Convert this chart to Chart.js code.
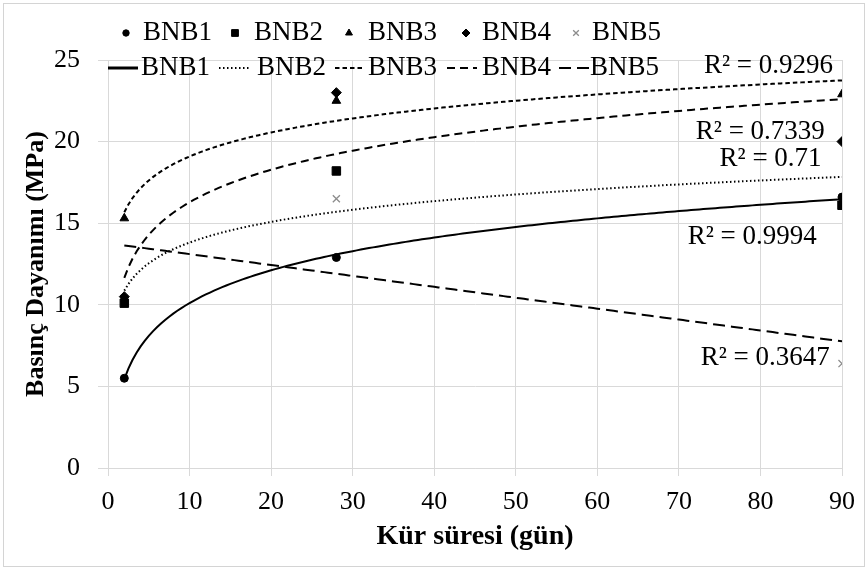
<!DOCTYPE html>
<html>
<head>
<meta charset="utf-8">
<title>Basınç Dayanımı</title>
<script src="https://cdn.jsdelivr.net/npm/chart.js@4.4.1/dist/chart.umd.min.js"></script>
<style>
    html, body { margin: 0; padding: 0; background: #fff; }
    #contenedor { width: 868px; height: 571px; position: relative; }
</style>
</head>
<body>
<div id="contenedor"><canvas id="grafica"></canvas></div>
<script>
// Datos
const seriesNames = ['BNB1', 'BNB2', 'BNB3', 'BNB4', 'BNB5'];
const curingDays = [2, 28, 90];
const bnb1 = [5.5, 12.9, 16.6];
const bnb2 = [10.1, 18.2, 16.1];
const bnb3 = [15.3, 22.5, 22.9];
const bnb4 = [10.5, 23.0, 20.0];
const bnb5 = [10.4, 16.5, 6.4];
const trendTypes = ['log', 'log', 'log', 'log', 'linear'];
const r2Texts = ['R² = 0.9994', 'R² = 0.71', 'R² = 0.9296', 'R² = 0.7339', 'R² = 0.3647'];
const xTickValues = [0, 10, 20, 30, 40, 50, 60, 70, 80, 90];
const yTickValues = [0, 5, 10, 15, 20, 25];

const allValues = [bnb1, bnb2, bnb3, bnb4, bnb5];

const FONT = "'Liberation Serif', 'Times New Roman', serif";

// Estilos (no son datos)
const markerStyles = [
    { pointStyle: 'circle', radius: 4, color: '#000', border: 1 },
    { pointStyle: 'rect', radius: 6, color: '#000', border: 1 },
    { pointStyle: 'triangle', radius: 5, color: '#000', border: 1 },
    { pointStyle: 'rectRot', radius: 5, color: '#000', border: 1 },
    { pointStyle: 'crossRot', radius: 5, color: '#8c8c8c', border: 1.3 }
];
const lineDashes = [[], [1.5, 2.5], [4.5, 3], [8, 5], [12, 6]];

// Ajuste por mínimos cuadrados (línea de tendencia de Excel)
function ajustarTendencia(xs, ys, tipo) {
    const us = xs.map(x => tipo === 'log' ? Math.log(x) : x);
    const n = us.length;
    const mu = us.reduce((a, b) => a + b, 0) / n;
    const my = ys.reduce((a, b) => a + b, 0) / n;
    let sxy = 0, sxx = 0;
    us.forEach((u, i) => { sxy += (u - mu) * (ys[i] - my); sxx += (u - mu) * (u - mu); });
    const a = sxy / sxx;
    const b = my - a * mu;
    return x => a * (tipo === 'log' ? Math.log(x) : x) + b;
}

function puntosTendencia(xs, ys, tipo) {
    const f = ajustarTendencia(xs, ys, tipo);
    const xmin = Math.min(...xs), xmax = Math.max(...xs);
    const pts = [];
    for (let x = xmin; x <= xmax + 1e-9; x += 0.5) pts.push({ x: x, y: f(x) });
    return pts;
}

const datasets = [];
seriesNames.forEach((name, i) => {
    const m = markerStyles[i];
    datasets.push({
        type: 'scatter',
        label: name,
        data: curingDays.map((d, j) => ({ x: d, y: allValues[i][j] })),
        pointStyle: m.pointStyle,
        pointRadius: m.radius,
        pointHoverRadius: m.radius,
        pointBorderWidth: m.border,
        backgroundColor: m.color,
        borderColor: m.color
    });
});
seriesNames.forEach((name, i) => {
    datasets.push({
        type: 'line',
        label: name,
        data: puntosTendencia(curingDays, allValues[i], trendTypes[i]),
        borderColor: '#000',
        borderWidth: 2,
        borderDash: lineDashes[i],
        borderCapStyle: 'butt',
        pointRadius: 0,
        fill: false,
        tension: 0
    });
});

// Marco exterior gris
const marcoPlugin = {
    id: 'marco',
    beforeDraw(chart) {
        const ctx = chart.ctx;
        ctx.save();
        ctx.fillStyle = '#fff';
        ctx.fillRect(0, 0, chart.width, chart.height);
        ctx.strokeStyle = '#d4d4d4';
        ctx.lineWidth = 1;
        ctx.strokeRect(3.5, 3.5, chart.width - 7, chart.height - 8);
        ctx.restore();
    }
};

// Leyenda en dos filas (marcadores y líneas de tendencia)
const leyendaPlugin = {
    id: 'leyendaDoble',
    afterDraw(chart, args, opts) {
        const ctx = chart.ctx;
        const ds = chart.data.datasets;
        ctx.save();
        ctx.font = opts.fontSize + 'px ' + FONT;
        ctx.fillStyle = '#000';
        ctx.textBaseline = 'middle';
        ctx.textAlign = 'left';
        // fila 1: marcadores
        opts.markerX.forEach((mx, i) => {
            const d = ds[i];
            ctx.save();
            ctx.fillStyle = d.backgroundColor;
            ctx.strokeStyle = d.borderColor;
            ctx.lineWidth = d.pointBorderWidth;
            Chart.helpers.drawPoint(ctx, {
                pointStyle: d.pointStyle,
                radius: d.pointRadius * 0.8,
                rotation: 0,
                borderWidth: d.pointBorderWidth
            }, mx, opts.row1Y);
            ctx.restore();
            ctx.fillText(d.label, opts.text1X[i], opts.row1Y);
        });
        // fila 2: líneas
        opts.lineX.forEach((lx, i) => {
            const d = ds[i + seriesNames.length];
            ctx.save();
            ctx.strokeStyle = d.borderColor;
            ctx.lineWidth = i === 0 ? 3 : 2;
            ctx.setLineDash(d.borderDash || []);
            ctx.lineCap = d.borderCapStyle;
            ctx.beginPath();
            ctx.moveTo(lx, opts.row2Y);
            ctx.lineTo(lx + opts.lineW, opts.row2Y);
            ctx.stroke();
            ctx.restore();
            ctx.fillText(d.label, opts.text2X[i], opts.row2Y);
        });
        ctx.restore();
    }
};

// Etiquetas R² de las líneas de tendencia
const r2Plugin = {
    id: 'etiquetasR2',
    afterDatasetsDraw(chart, args, opts) {
        const ctx = chart.ctx;
        const sx = chart.scales.x, sy = chart.scales.y;
        ctx.save();
        ctx.font = opts.fontSize + 'px ' + FONT;
        ctx.fillStyle = '#000';
        ctx.textAlign = 'right';
        ctx.textBaseline = 'middle';
        r2Texts.forEach((t, i) => {
            const a = opts.anchors[i];
            ctx.fillText(t, sx.getPixelForValue(a[0]), sy.getPixelForValue(a[1]));
        });
        ctx.restore();
    }
};

const gridColor = '#d9d9d9';

new Chart(document.getElementById('grafica'), {
    data: { datasets: datasets },
    plugins: [marcoPlugin, leyendaPlugin, r2Plugin],
    options: {
        responsive: true,
        maintainAspectRatio: false,
        animation: false,
        events: [],
        layout: { padding: { left: 8, right: 26, top: 60, bottom: 10 } },
        plugins: {
            legend: { display: false },
            tooltip: { enabled: false },
            leyendaDoble: {
                fontSize: 27,
                row1Y: 33,
                row2Y: 68,
                markerX: [126, 235, 349, 466, 576],
                text1X: [143, 254, 368, 482, 592],
                lineX: [108, 219, 335, 447, 559],
                lineW: 30,
                text2X: [141, 257, 368, 482, 590]
            },
            etiquetasR2: {
                fontSize: 27,
                // [x, y] en unidades de los ejes, borde derecho del texto
                anchors: [[86.9, 14.15], [87.5, 18.93], [88.9, 24.63], [87.9, 20.6], [88.5, 6.74]]
            }
        },
        scales: {
            x: {
                type: 'linear',
                min: 0,
                max: 90,
                afterBuildTicks: s => { s.ticks = xTickValues.map(v => ({ value: v })); },
                afterFit: s => { s.height = 93; },
                ticks: { font: { family: FONT, size: 26 }, color: '#000', padding: 11, maxRotation: 0 },
                grid: { color: gridColor, tickLength: 8, tickColor: gridColor },
                border: { color: gridColor },
                title: {
                    display: true,
                    text: 'Kür süresi (gün)',
                    font: { family: FONT, size: 28, weight: 'bold' },
                    color: '#000',
                    padding: { top: 0, bottom: 7 }
                }
            },
            y: {
                type: 'linear',
                min: 0,
                max: 25,
                afterBuildTicks: s => { s.ticks = yTickValues.map(v => ({ value: v })); },
                afterFit: s => { s.width = 100; },
                ticks: { font: { family: FONT, size: 26 }, color: '#000', padding: 18 },
                grid: { color: gridColor, tickLength: 10, tickColor: gridColor },
                border: { color: gridColor },
                title: {
                    display: true,
                    text: 'Basınç Dayanımı (MPa)',
                    font: { family: FONT, size: 26, weight: 'bold' },
                    color: '#000',
                    padding: { top: 13, bottom: 0 }
                }
            }
        }
    }
});
</script>
</body>
</html>
